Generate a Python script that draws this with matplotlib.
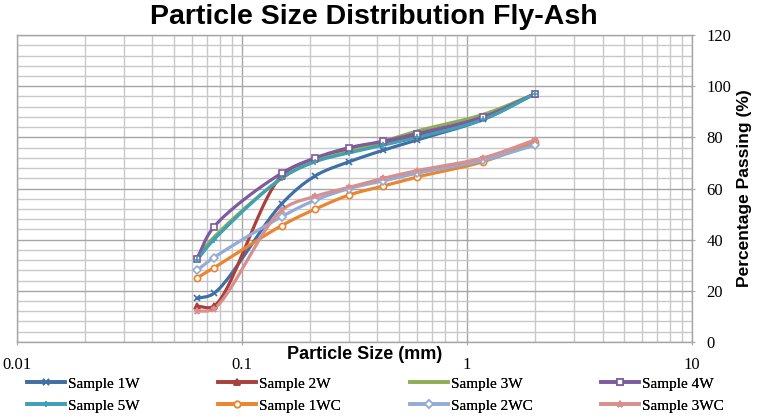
import matplotlib as mpl
mpl.use('Agg')
import matplotlib.pyplot as plt
from matplotlib.ticker import LogLocator, NullFormatter, FixedLocator
import numpy as np

# sieve sizes (mm) and percentage passing per sample
sizes = [0.063, 0.075, 0.15, 0.212, 0.3, 0.425, 0.6, 1.18, 2.0]
s1w = [17, 19, 54, 65, 70.5, 75, 79, 87, 97]
s2w = [14, 14, 65, 71.5, 75, 78, 81, 88, 97]
s3w = [33, 41, 64, 71, 74.5, 78.5, 82.5, 89, 97]
s4w = [32.5, 45, 66, 72, 76, 78.5, 81.5, 88, 97]
s5w = [32, 40, 64, 70.5, 74, 77, 80, 87, 97]
s1wc = [25, 29, 45.5, 52, 57.5, 61, 64.5, 70.5, 78]
s2wc = [28, 33, 49, 55.5, 60, 63, 66, 71, 77]
s3wc = [12, 13, 51.5, 57, 60.5, 64, 67, 72, 79]

names = ['Sample 1W', 'Sample 2W', 'Sample 3W', 'Sample 4W',
         'Sample 5W', 'Sample 1WC', 'Sample 2WC', 'Sample 3WC']
series = [s1w, s2w, s3w, s4w, s5w, s1wc, s2wc, s3wc]
colors = ['#3F6FA6', '#A9403C', '#8DAE52', '#7C5B9E',
          '#3FA0B8', '#EA8530', '#93ABD6', '#D8908E']
markers = ['x', '^', None, 's', '+', 'o', 'D', '*']


def smooth(x, y, n=25, alpha=0.5):
    # centripetal catmull-rom in screen-like space (log x), close to excel's smoothed line
    X = np.log10(x) * 225.0
    Y = np.asarray(y, float) * 2.56
    P = np.column_stack([X, Y])
    P = np.vstack([2 * P[0] - P[1], P, 2 * P[-1] - P[-2]])
    out = []
    for i in range(1, len(P) - 2):
        p0, p1, p2, p3 = P[i - 1], P[i], P[i + 1], P[i + 2]
        t0 = 0.0
        t1 = t0 + max(np.linalg.norm(p1 - p0), 1e-6) ** alpha
        t2 = t1 + max(np.linalg.norm(p2 - p1), 1e-6) ** alpha
        t3 = t2 + max(np.linalg.norm(p3 - p2), 1e-6) ** alpha
        t = np.linspace(t1, t2, n, endpoint=False)[:, None]
        a1 = (t1 - t) / (t1 - t0) * p0 + (t - t0) / (t1 - t0) * p1
        a2 = (t2 - t) / (t2 - t1) * p1 + (t - t1) / (t2 - t1) * p2
        a3 = (t3 - t) / (t3 - t2) * p2 + (t - t2) / (t3 - t2) * p3
        b1 = (t2 - t) / (t2 - t0) * a1 + (t - t0) / (t2 - t0) * a2
        b2 = (t3 - t) / (t3 - t1) * a2 + (t - t1) / (t3 - t1) * a3
        c = (t2 - t) / (t2 - t1) * b1 + (t - t1) / (t2 - t1) * b2
        out.append(c)
    out.append(P[-2][None, :])
    out = np.vstack(out)
    return 10 ** (out[:, 0] / 225.0), out[:, 1] / 2.56


fig = plt.figure(figsize=(7.63, 4.18), dpi=100)
ax = fig.add_axes([0.0223, 0.182, 0.8847, 0.734])

handles = []
for name, ys, c, m in zip(names, series, colors, markers):
    fill = 'white' if m in ('s', 'o', 'D') else c
    sx, sy = smooth(np.array(sizes), ys)
    ax.plot(sx, sy, color=c, lw=2.3, solid_capstyle='round', zorder=3)
    ax.plot(sizes, ys, linestyle='none', marker=m, color=c, ms=4.5,
            mec=c, mfc=fill, mew=1.2, zorder=4)
    h, = ax.plot([], [], color=c, lw=2.6, marker=m, ms=4.5, mec=c,
                 mfc=fill, mew=1.2, label=name)
    handles.append(h)

ax.set_xscale('log')
ax.set_xlim(0.01, 10)
ax.set_ylim(0, 120)
ax.yaxis.set_major_locator(FixedLocator(range(0, 121, 20)))
ax.yaxis.set_minor_locator(FixedLocator(range(0, 121, 4)))
ax.xaxis.set_major_locator(FixedLocator([0.01, 0.1, 1, 10]))
ax.xaxis.set_minor_locator(LogLocator(base=10, subs=np.arange(2, 10)))
ax.xaxis.set_minor_formatter(NullFormatter())
ax.set_xticklabels(['0.01', '0.1', '1', '10'])
ax.yaxis.tick_right()

ax.grid(which='major', color='#A6A6A6', lw=1.0)
ax.grid(which='minor', color='#C8C8C8', lw=1.0)
ax.set_axisbelow(True)
for s in ax.spines.values():
    s.set_color('#A6A6A6')
    s.set_linewidth(1.0)
ax.tick_params(which='major', length=5, color='#A6A6A6', direction='inout',
               labelsize=12, pad=8)
ax.tick_params(which='minor', length=0)
for lab in ax.get_xticklabels() + ax.get_yticklabels():
    lab.set_family('Liberation Serif')

fig.text(0.49, 0.96, 'Particle Size Distribution Fly-Ash', ha='center', va='center',
         fontsize=20.5, fontweight='bold', family='Liberation Sans')
fig.text(0.478, 0.152, 'Particle Size (mm)', ha='center', va='center',
         fontsize=13, fontweight='bold', family='Liberation Sans')
fig.text(0.976, 0.55, 'Percentage Passing (%)', ha='center', va='center',
         rotation=90, fontsize=12.5, fontweight='bold', family='Liberation Sans')

# excel-style legend: 4 evenly spaced columns, two rows
col_x = [27, 218, 410, 601]
for i, x in enumerate(col_x):
    leg = fig.legend(handles=[handles[i], handles[i + 4]], loc='upper left',
                     bbox_to_anchor=(x / 763, 0.098), frameon=False, borderpad=0,
                     borderaxespad=0, prop={'family': 'Liberation Serif', 'size': 11},
                     handlelength=2.5, handletextpad=0.2, labelspacing=0.55)
    fig.add_artist(leg)

plt.savefig('out.png', dpi=100)
